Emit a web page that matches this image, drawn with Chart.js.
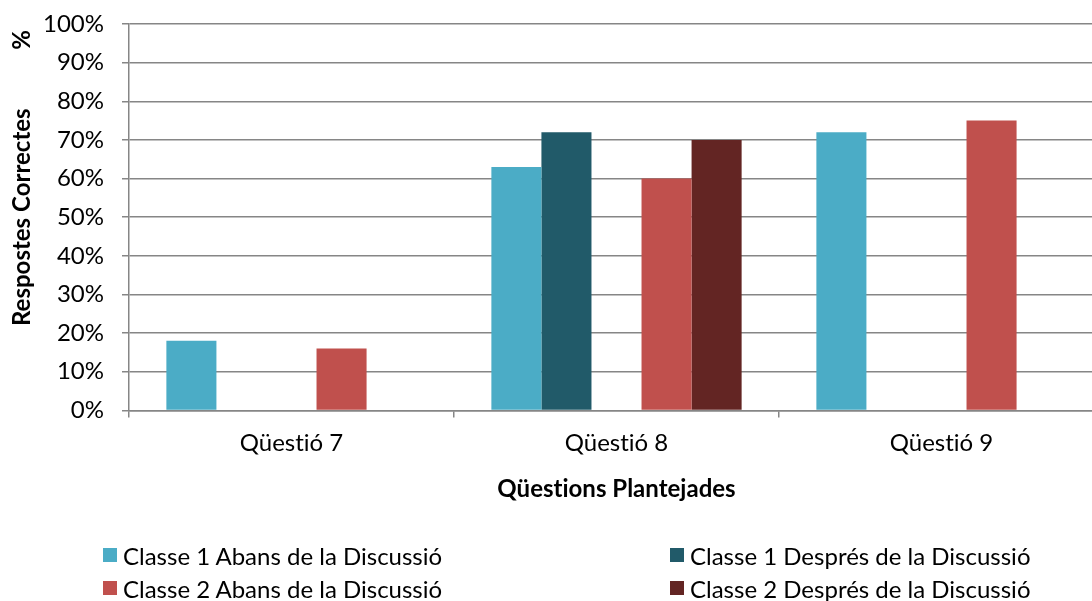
<!DOCTYPE html>
<html>
<head>
<meta charset="utf-8">
<script src="https://cdn.jsdelivr.net/npm/chart.js@4"></script>
<style>
html,body{margin:0;padding:0;background:#fff;overflow:hidden;}
#wrap{position:relative;width:1104px;height:601px;}
#legend{position:absolute;left:0;top:0;width:1104px;height:601px;pointer-events:none;font-family:Lato,sans-serif;font-size:24px;color:#000;font-variant-ligatures:none;}
.item{position:absolute;display:flex;align-items:center;white-space:nowrap;}
.box{width:14px;height:14px;margin-right:6px;}
</style>
</head>
<body>
<div id="wrap">
<canvas id="chart" width="1104" height="601"></canvas>
<div id="legend"></div>
</div>
<script>
const categories=["Qüestió 7","Qüestió 8","Qüestió 9"];
const classe1Abans=[18,63,72];
const classe1Despres=[null,72,null];
const buit=[null,null,null];
const classe2Abans=[16,60,75];
const classe2Despres=[null,70,null];
const yTicks=[0,10,20,30,40,50,60,70,80,90,100];

const series=[
{label:"Classe 1 Abans de la Discussió",data:classe1Abans,color:"#4BACC6"},
{label:"Classe 1 Després de la Discussió",data:classe1Despres,color:"#215A69"},
{label:"",data:buit,color:"rgba(0,0,0,0)"},
{label:"Classe 2 Abans de la Discussió",data:classe2Abans,color:"#C0504D"},
{label:"Classe 2 Després de la Discussió",data:classe2Despres,color:"#632523"}
];

const font="Lato, sans-serif";
const fs=24;

// no "ti" ligature, rotated "%" at top of the y title
const extras={
id:"extras",
beforeDraw(chart){chart.ctx.letterSpacing="0.01px";},
afterDraw(chart){
const ctx=chart.ctx;
ctx.save();
ctx.translate(22,40);
ctx.rotate(-Math.PI/2);
ctx.font="bold "+fs+"px "+font;
ctx.fillStyle="#000";
ctx.textAlign="center";
ctx.textBaseline="middle";
ctx.fillText("%",0,0);
ctx.restore();
}
};

new Chart(document.getElementById("chart"),{
type:"bar",
data:{
labels:categories,
datasets:series.map(s=>({label:s.label,data:s.data,backgroundColor:s.color,borderWidth:0,categoryPercentage:0.77,barPercentage:1}))
},
options:{
responsive:false,
animation:false,
layout:{padding:{top:24,right:0,bottom:97,left:0}},
plugins:{legend:{display:false},tooltip:{enabled:false}},
scales:{
x:{
offset:true,
grid:{offset:true,drawOnChartArea:false,drawTicks:true,tickLength:7,color:"#868686",lineWidth:1.5},
border:{color:"#868686",width:1.5},
ticks:{font:{family:font,size:fs},color:"#000",padding:11},
title:{display:true,text:"Qüestions Plantejades",font:{family:font,size:fs,weight:"bold"},color:"#000",padding:{top:7,bottom:0}}
},
y:{
min:0,max:100,
afterBuildTicks(s){s.ticks=yTicks.map(v=>({value:v}));},
afterFit(s){s.width=129;s.paddingTop=0;},
grid:{color:"#868686",lineWidth:1.5,tickLength:7},
border:{color:"#868686",width:1.5},
ticks:{font:{family:font,size:fs},color:"#000",padding:18,callback:v=>v+"%"},
title:{display:true,text:"Respostes Correctes",font:{family:font,size:fs,weight:"bold"},color:"#000",padding:{top:8,bottom:0}}
}
}
},
plugins:[extras]
});

// legend, two columns
const legend=document.getElementById("legend");
const pos=[[103,555],[670,555],null,[103,588],[670,588]];
series.forEach((s,i)=>{
if(!pos[i])return;
const it=document.createElement("div");
it.className="item";
it.style.left=pos[i][0]+"px";
it.style.top=(pos[i][1]-15)+"px";
it.style.height="30px";
const b=document.createElement("span");
b.className="box";
b.style.background=s.color;
const t=document.createElement("span");
t.textContent=s.label;
it.appendChild(b);it.appendChild(t);
legend.appendChild(it);
});
</script>
</body>
</html>
